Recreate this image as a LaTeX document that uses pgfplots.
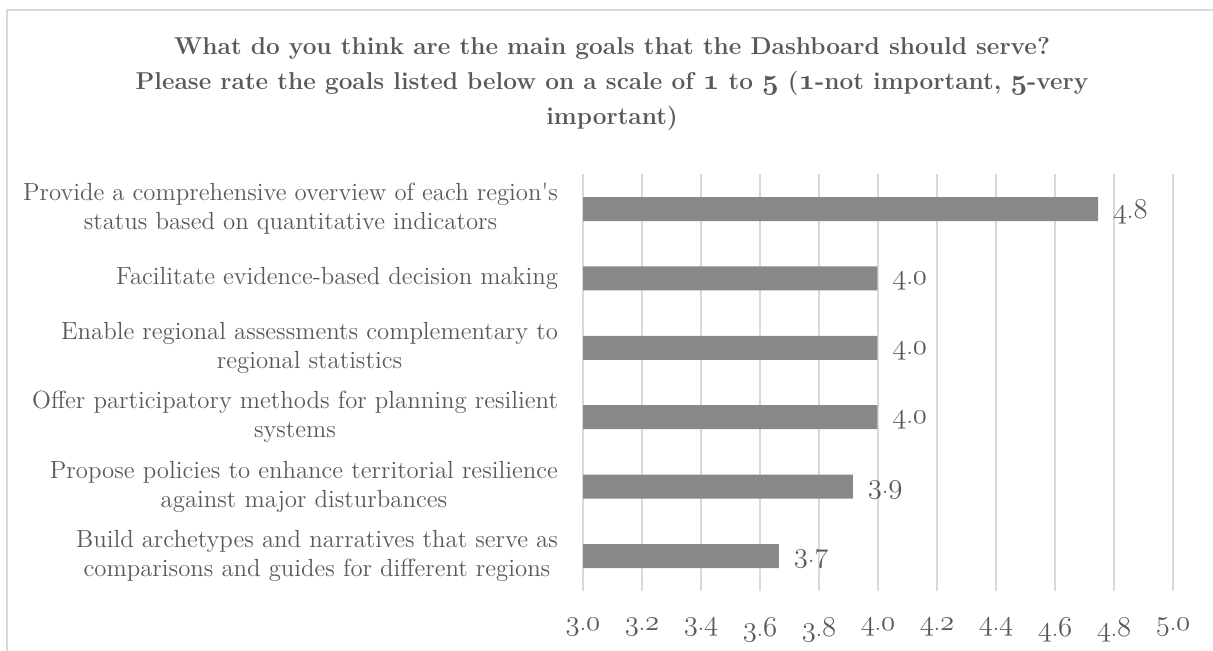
\documentclass[border=0pt]{standalone}
\usepackage{pgfplots}
\pgfplotsset{compat=1.18}
\definecolor{txt}{HTML}{595959}
\definecolor{grd}{HTML}{D9D9D9}
\definecolor{barc}{HTML}{888888}
\newcommand\osd[1]{{\fontsize{14}{14}\usefont{OML}{cmm}{m}{it}#1}}
\newcommand\osdb[1]{{\fontsize{14.5}{14.5}\usefont{OML}{cmm}{b}{it}#1}}
\begin{document}
\begin{tikzpicture}[x=1pt,y=1pt]
\path[use as bounding box] (0,0) rectangle (606.5,325);
\draw[grd, line width=0.8pt] (3.5,-10) -- (3.5,320) -- (620,320);
\node[align=center, text=txt, font=\bfseries\fontsize{12.2}{17.5}\selectfont] at (306,283)
 {What do you think are the main goals that the Dashboard should serve?\\
  Please rate the goals listed below on a scale of \osdb{1} to \osdb{5} (\osdb{1}-not important, \osdb{5}-very\\
  important)};
\begin{axis}[
  at={(291.5pt,237.85pt)}, anchor=north west,
  scale only axis, width=295pt, height=208.2pt,
  xbar, bar width=12pt,
  xmin=3, xmax=5, ymin=-0.5, ymax=5.5, y dir=reverse,
  xtick={3,3.2,3.4,3.6,3.8,4,4.2,4.4,4.6,4.8,5},
  xticklabels={\osd{3}.\osd{0},\osd{3}.\osd{2},\osd{3}.\osd{4},\osd{3}.\osd{6},\osd{3}.\osd{8},\osd{4}.\osd{0},\osd{4}.\osd{2},\osd{4}.\osd{4},\osd{4}.\osd{6},\osd{4}.\osd{8},\osd{5}.\osd{0}},
  ytick={0,1,2,3,4,5},
  yticklabels={
    {Provide a comprehensive overview of each region\textquotesingle s\\status based on quantitative indicators},
    {Facilitate evidence-based decision making},
    {Enable regional assessments complementary to\\regional statistics},
    {Offer participatory methods for planning resilient\\systems},
    {Propose policies to enhance territorial resilience\\against major disturbances},
    {Build archetypes and narratives that serve as\\comparisons and guides for different regions}},
  xmajorgrids, grid style={grd, line width=0.8pt},
  axis line style={draw=none},
  major tick length=0pt,
  tick style={draw=none},
  xticklabel style={text=txt, font=\fontsize{11.6}{14}\selectfont, yshift=-10pt},
  yticklabel style={text=txt, align=center, font=\fontsize{12.4}{14.5}\selectfont, xshift=-9pt},
  point meta=explicit symbolic,
  nodes near coords,
  nodes near coords style={text=txt, font=\fontsize{11.6}{14}\selectfont, anchor=west, xshift=4pt, yshift=-1.5pt},
  clip=false,
]
\addplot[fill=barc, draw=none] coordinates {
  (4.746,0) [\osd{4}.\osd{8}]
  (3.998,1) [\osd{4}.\osd{0}]
  (3.998,2) [\osd{4}.\osd{0}]
  (3.998,3) [\osd{4}.\osd{0}]
  (3.915,4) [\osd{3}.\osd{9}]
  (3.664,5) [\osd{3}.\osd{7}]
};
\end{axis}
\end{tikzpicture}
\end{document}
